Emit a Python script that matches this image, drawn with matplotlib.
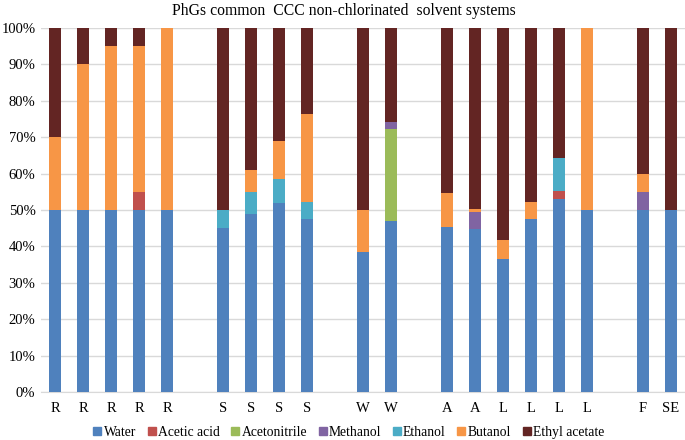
import numpy as np
import matplotlib
matplotlib.use("Agg")
import matplotlib.pyplot as plt
from matplotlib.lines import Line2D

plt.rcParams['font.family'] = ['Liberation Serif', 'DejaVu Serif']

# Categories ("" = empty slot between groups)
labels = ["R", "R", "R", "R", "R", "",
          "S", "S", "S", "S", "",
          "W", "W", "",
          "A", "A", "L", "L", "L", "L", "",
          "F", "SE"]

# Percent composition of each solvent system
water        = [50, 50, 50, 50, 50, 0, 45, 49, 52, 47.5, 0, 38.5, 47, 0, 45.4, 44.7, 36.5, 47.5, 53.0, 50, 0, 50, 50]
acetic_acid  = [0, 0, 0, 5, 0, 0, 0, 0, 0, 0, 0, 0, 0, 0, 0, 0, 0, 0, 2.2, 0, 0, 0, 0]
acetonitrile = [0, 0, 0, 0, 0, 0, 0, 0, 0, 0, 0, 0, 25.2, 0, 0, 0, 0, 0, 0, 0, 0, 0, 0]
methanol     = [0, 0, 0, 0, 0, 0, 0, 0, 0, 0, 0, 0, 1.9, 0, 0, 4.8, 0, 0, 0, 0, 0, 4.9, 0]
ethanol      = [0, 0, 0, 0, 0, 0, 5, 6, 6.5, 4.8, 0, 0, 0, 0, 0, 0, 0, 0, 9.2, 0, 0, 0, 0]
butanol      = [20, 40, 45, 40, 50, 0, 0, 6, 10.5, 24.1, 0, 11.5, 0, 0, 9.2, 0.8, 5.2, 4.8, 0, 50, 0, 5.1, 0]
ethyl_acet   = [30, 10, 5, 5, 0, 0, 50, 39, 31, 23.6, 0, 50, 25.9, 0, 45.4, 49.7, 58.3, 47.7, 35.6, 0, 0, 40, 50]

series = [
    ("Water", water, "#4F81BD"),
    ("Acetic acid", acetic_acid, "#C0504D"),
    ("Acetonitrile", acetonitrile, "#9BBB59"),
    ("Methanol", methanol, "#8064A2"),
    ("Ethanol", ethanol, "#4BACC6"),
    ("Butanol", butanol, "#F79646"),
    ("Ethyl acetate", ethyl_acet, "#632523"),
]

fig = plt.figure(figsize=(6.85, 4.4), dpi=100)
ax = fig.add_axes([0.0599, 0.1091, 0.9401, 0.8273])

x = np.arange(len(labels))
totals = np.sum([np.array(v, dtype=float) for _, v, _ in series], axis=0)
totals[totals == 0] = 1
bottom = np.zeros(len(labels))
for name, vals, color in series:
    pct = np.array(vals, dtype=float) / totals * 100
    ax.bar(x, pct, width=0.4, bottom=bottom, color=color, edgecolor="none", zorder=3)
    bottom += pct

ax.set_xlim(-0.5, len(labels) - 0.5)
ax.set_ylim(0, 100)
ax.set_xticks(x)
ax.set_xticklabels(labels, fontsize=10.5)
ax.set_yticks(np.arange(0, 101, 10))
ax.set_yticklabels([f"{v}%" for v in range(0, 101, 10)], fontsize=10.5)
ax.tick_params(axis="x", length=0, pad=7)
ax.tick_params(axis="y", length=0, pad=4)
ax.yaxis.grid(True, color="#D9D9D9", linewidth=1, zorder=0)
for s in ["top", "right", "left"]:
    ax.spines[s].set_visible(False)
ax.spines["bottom"].set_color("#D9D9D9")

fig.text(0.502, 0.975, "PhGs common  CCC non-chlorinated  solvent systems",
         ha="center", va="center", fontsize=11.3)

handles = [Line2D([], [], marker="s", linestyle="none", color=c, markersize=6)
           for _, _, c in series]
fig.legend(handles, [n for n, _, _ in series], loc="center",
           bbox_to_anchor=(0.508, 0.018), ncol=7, frameon=False, fontsize=9.8,
           handletextpad=0.05, columnspacing=0.75, handlelength=0.8)

fig.savefig("out.png", dpi=100)
